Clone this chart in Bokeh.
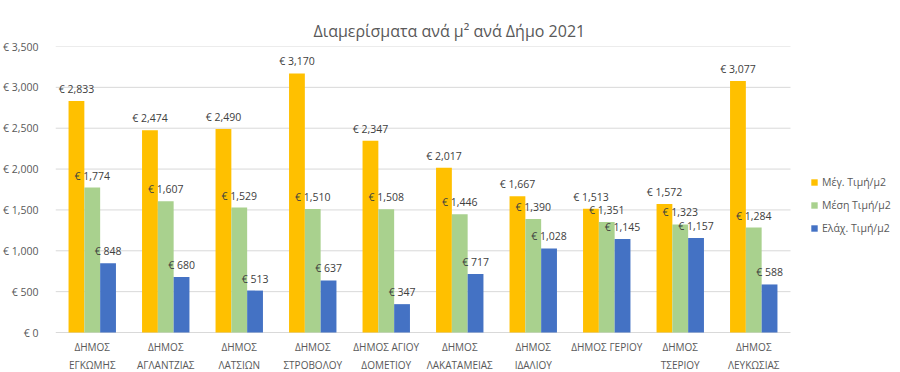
from bokeh.plotting import figure
from bokeh.models import (Range1d, ColumnDataSource, FixedTicker, Legend, LegendItem)
from bokeh.core.properties import value
from bokeh.transform import dodge
from bokeh.embed import file_html
from bokeh.resources import INLINE

categories = ["ΔΗΜΟΣ\nΕΓΚΩΜΗΣ", "ΔΗΜΟΣ\nΑΓΛΑΝΤΖΙΑΣ", "ΔΗΜΟΣ\nΛΑΤΣΙΩΝ", "ΔΗΜΟΣ\nΣΤΡΟΒΟΛΟΥ",
              "ΔΗΜΟΣ ΑΓΙΟΥ\nΔΟΜΕΤΙΟΥ", "ΔΗΜΟΣ\nΛΑΚΑΤΑΜΕΙΑΣ", "ΔΗΜΟΣ\nΙΔΑΛΙΟΥ", "ΔΗΜΟΣ ΓΕΡΙΟΥ",
              "ΔΗΜΟΣ\nΤΣΕΡΙΟΥ", "ΔΗΜΟΣ\nΛΕΥΚΩΣΙΑΣ"]
max_price = [2833, 2474, 2490, 3170, 2347, 2017, 1667, 1513, 1572, 3077]
mean_price = [1774, 1607, 1529, 1510, 1508, 1446, 1390, 1351, 1323, 1284]
min_price = [848, 680, 513, 637, 347, 717, 1028, 1145, 1157, 588]
series_names = ["Μέγ. Τιμή/μ2", "Μέση Τιμή/μ2", "Ελάχ. Τιμή/μ2"]
y_ticks = [0, 500, 1000, 1500, 2000, 2500, 3000, 3500]
title_text = "Διαμερίσματα ανά μ² ανά Δήμο 2021"

colors = ["#FFC000", "#A9D18E", "#4472C4"]
FONT = "Open Sans"
GRAY = "#595959"

def fmt(v):
    return "€ {:,}".format(v)

n = len(categories)
idx = list(range(n))

src = ColumnDataSource(dict(
    idx=idx, cat=categories,
    base=[0] * n,
    mx=max_price, me=mean_price, mn=min_price,
    mx_l=[fmt(v) for v in max_price],
    me_l=[fmt(v) for v in mean_price],
    mn_l=[fmt(v) for v in min_price],
))

# layout (pixels)
W, H = 900, 372
LEFT, TOP = 55, 46
PLOT_W = 735            # width of the category area
ZERO_PX = 286           # pixel height from 0 to top tick
BELOW = 40              # pixel space below baseline inside the frame
frame_w = W - LEFT
y_top = y_ticks[-1]
y_bottom = -y_top * BELOW / ZERO_PX
x_end = -0.5 + n * frame_w / PLOT_W

p = figure(x_range=Range1d(-0.5, x_end), y_range=Range1d(y_bottom, y_top),
           width=W, height=H, output_backend="svg", toolbar_location=None,
           min_border_left=LEFT, min_border_right=0, min_border_top=TOP, min_border_bottom=0)
p.outline_line_color = None
p.background_fill_color = "white"
p.border_fill_color = "white"
p.xaxis.visible = False
p.xgrid.grid_line_color = None
p.ygrid.grid_line_color = None

# horizontal gridlines across category area only
gsrc = ColumnDataSource(dict(y=y_ticks, x0=[-0.5] * len(y_ticks), x1=[n - 0.5] * len(y_ticks)))
p.segment(x0="x0", x1="x1", y0="y", y1="y", source=gsrc, line_color="#d9d9d9", line_width=1)

w = 0.215
offs = [-w, 0, w]
cols = ["mx", "me", "mn"]
labs = ["mx_l", "me_l", "mn_l"]
renderers = []
for c, l, o, col in zip(cols, labs, offs, colors):
    r = p.vbar(x=dodge("idx", o), top=c, width=w, source=src,
               fill_color=col, line_color=None)
    renderers.append(r)
    p.text(x=dodge("idx", o), y=c, text=l, source=src,
           text_align="center", text_baseline="bottom", y_offset=-5,
           text_font=value(FONT), text_font_size="10.5px", text_color="#404040")

# category labels below the baseline
p.text(x="idx", y="base", text="cat", source=src, text_align="center", text_baseline="top",
       y_offset=7, text_font=value(FONT), text_font_size="10px", text_color=GRAY,
       text_line_height=1.35)

p.yaxis.ticker = FixedTicker(ticks=y_ticks)
p.yaxis.major_label_overrides = {t: fmt(t) for t in y_ticks}
p.yaxis.axis_line_color = None
p.yaxis.major_tick_line_color = None
p.yaxis.minor_tick_line_color = None
p.yaxis.major_label_text_font = FONT
p.yaxis.major_label_text_font_size = "10.5px"
p.yaxis.major_label_text_color = GRAY
p.yaxis.major_label_standoff = 11

p.title.text = title_text
p.title.align = "left"
p.title.offset = 258
p.title.text_font = FONT
p.title.text_font_size = "16px"
p.title.text_font_style = "normal"
p.title.text_color = GRAY

legend = Legend(items=[LegendItem(label=nm, renderers=[r]) for nm, r in zip(series_names, renderers)],
                location=(755, 137), border_line_color=None, background_fill_alpha=0,
                label_text_font=FONT, label_text_font_size="10.5px", label_text_color=GRAY,
                glyph_width=8, glyph_height=8, spacing=9, label_standoff=4, padding=0, margin=0)
p.add_layout(legend, "center")

open("out.html", "w").write(file_html(p, INLINE))
